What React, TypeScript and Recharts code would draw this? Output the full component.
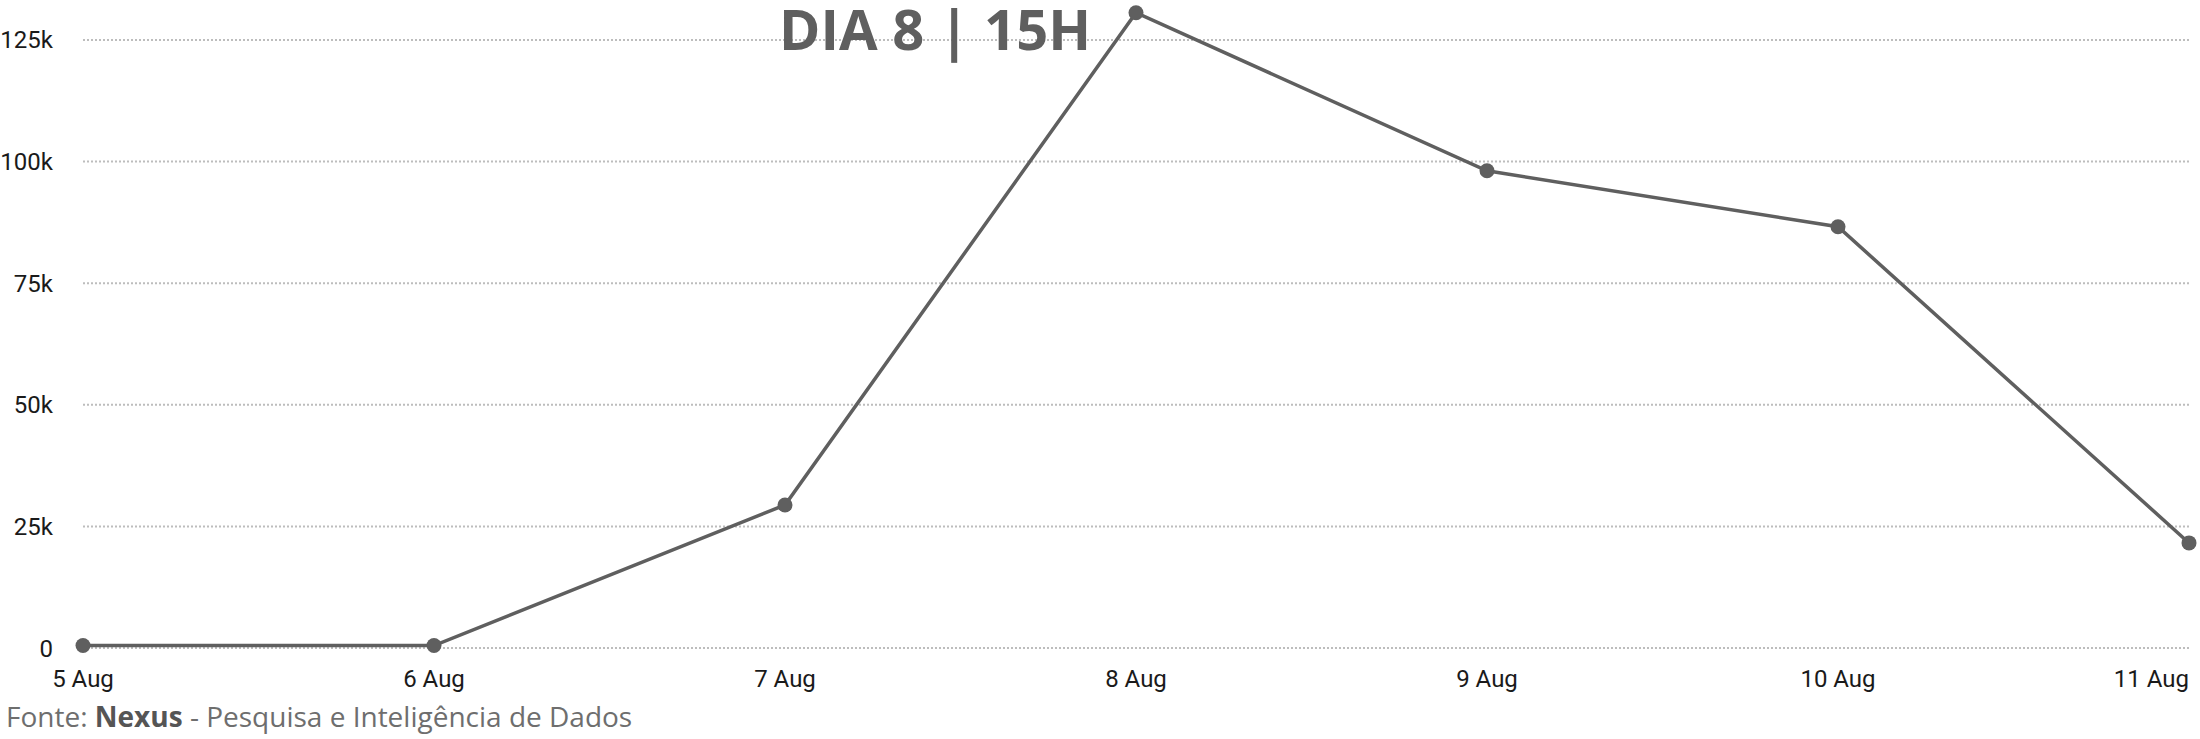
import React from 'react';
import { LineChart, Line, XAxis, YAxis, CartesianGrid } from 'recharts';

// daily values
const days = ['5 Aug', '6 Aug', '7 Aug', '8 Aug', '9 Aug', '10 Aug', '11 Aug'];
const counts = [500, 500, 29400, 130600, 98100, 86600, 21600];
const yTicks = [0, 25000, 50000, 75000, 100000, 125000];

const title = 'DIA 8 | 15H';

const data = days.map((day, i) => ({ day, value: counts[i] }));

const W = 2200;
const H = 739;
const INK = '#5f5f5f';

const fmtK = (v: number) => (v === 0 ? '0' : `${v / 1000}k`);

// last label gets pulled inside the chart edge like the original
const XTick = (props: any) => {
  const { x, y, payload, index } = props;
  const last = index === days.length - 1;
  return (
    <text
      x={x}
      y={y}
      dy="0.71em"
      textAnchor={last ? 'end' : 'middle'}
      fill="#1a1a1a"
      fontSize={24}
      fontFamily="Roboto, sans-serif"
    >
      {payload.value}
    </text>
  );
};

export default function App() {
  return (
    <div style={{ position: 'absolute', left: 0, top: 0, width: W, height: H, background: '#fff' }}>
      <LineChart
        width={W}
        height={H}
        data={data}
        margin={{ top: 12.7, right: 11, bottom: 61, left: 0 }}
      >
        <CartesianGrid
          vertical={false}
          horizontalValues={yTicks}
          stroke="#bdbdbd"
          strokeWidth={2}
          strokeDasharray="2 2"
        />
        <XAxis
          dataKey="day"
          height={30}
          axisLine={false}
          tickLine={false}
          tickSize={0}
          tickMargin={22}
          interval={0}
          tick={<XTick />}
        />
        <YAxis
          width={83}
          domain={[0, 'dataMax']}
          ticks={yTicks}
          tickFormatter={fmtK}
          axisLine={false}
          tickLine={false}
          tickSize={0}
          tickMargin={30}
          tick={{ fill: '#1a1a1a', fontSize: 24, fontFamily: 'Roboto, sans-serif' }}
        />
        <Line
          type="linear"
          dataKey="value"
          stroke={INK}
          strokeWidth={3.5}
          dot={{ r: 7.5, fill: INK, stroke: INK, strokeWidth: 0 }}
          activeDot={false}
          isAnimationActive={false}
        />
      </LineChart>
      <svg
        width={W}
        height={H}
        style={{ position: 'absolute', left: 0, top: 0, pointerEvents: 'none' }}
      >
        <text
          x={935}
          y={50}
          textAnchor="middle"
          fill={INK}
          fontSize={56}
          fontWeight={700}
          fontFamily="'Open Sans', sans-serif"
        >
          {title}
        </text>
        <text x={6} y={727} fill="#6e6e6e" fontSize={28} fontFamily="'Open Sans', sans-serif">
          Fonte: <tspan fontWeight={700} fill="#555">Nexus</tspan> - Pesquisa e Inteligência de Dados
        </text>
      </svg>
    </div>
  );
}
